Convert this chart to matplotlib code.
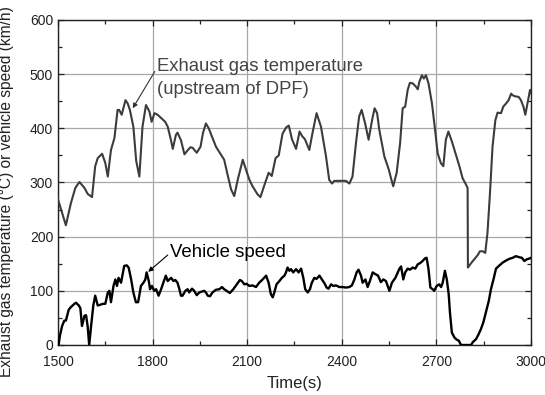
import numpy as np
import matplotlib
matplotlib.use("Agg")
from matplotlib import pyplot as plt
from matplotlib.ticker import MultipleLocator

plt.rcParams['font.family'] = ['Liberation Sans', 'DejaVu Sans']

# exhaust gas temperature upstream of the DPF (deg C)
temp_t = [1500, 1525, 1541, 1555, 1568, 1584, 1594, 1608, 1618, 1626, 1640, 1650, 1658, 1668,
          1679, 1689, 1694, 1702, 1714, 1721, 1728, 1739, 1748, 1758, 1768, 1779, 1790, 1797,
          1806, 1816, 1827, 1840, 1848, 1858, 1864, 1874, 1879, 1890, 1901, 1912, 1920, 1927,
          1940, 1952, 1960, 1969, 1978, 1990, 2001, 2017, 2027, 2038, 2049, 2059, 2070, 2086,
          2096, 2107, 2117, 2133, 2142, 2155, 2168, 2178, 2190, 2200, 2212, 2224, 2232, 2242,
          2255, 2266, 2275, 2283, 2297, 2307, 2320, 2334, 2350, 2360, 2369, 2376, 2390, 2405,
          2413, 2424, 2434, 2445, 2455, 2463, 2474, 2485, 2496, 2504, 2512, 2519, 2535, 2549,
          2556, 2563, 2574, 2585, 2593, 2601, 2609, 2616, 2625, 2635, 2641, 2646, 2654, 2660,
          2667, 2675, 2686, 2697, 2704, 2714, 2722, 2730, 2738, 2749, 2762, 2773, 2783, 2794,
          2799, 2800, 2810, 2820, 2831, 2838, 2847, 2855, 2862, 2870, 2878, 2887, 2894, 2905,
          2912, 2921, 2929, 2937, 2942, 2950, 2961, 2968, 2976, 2982, 2989, 2997, 3000]
temp_v = [269, 221, 262, 290, 301, 290, 279, 273, 330, 345, 353, 336, 311, 360,
          382, 434, 434, 425, 452, 446, 434, 403, 340, 311, 403, 443, 431, 412,
          428, 425, 419, 412, 403, 379, 362, 388, 392, 378, 352, 360, 365, 364,
          355, 366, 392, 409, 400, 382, 366, 351, 342, 314, 287, 275, 305, 342,
          324, 305, 293, 278, 273, 296, 318, 312, 345, 350, 390, 402, 405, 380,
          362, 394, 385, 380, 360, 391, 428, 403, 348, 305, 298, 303, 303, 303,
          303, 298, 311, 373, 422, 434, 409, 379, 415, 437, 428, 397, 348, 324,
          308, 293, 318, 373, 437, 440, 471, 484, 483, 477, 472, 486, 498, 492,
          498, 483, 446, 391, 354, 336, 330, 379, 394, 376, 351, 330, 308, 296,
          290, 143, 151, 158, 166, 173, 173, 170, 207, 281, 366, 415, 429, 428,
          440, 446, 452, 464, 461, 459, 458, 452, 440, 425, 446, 471, 465]

# vehicle speed (km/h)
speed_t = [1502, 1506, 1513, 1520, 1525, 1534, 1541, 1552, 1557, 1566, 1571, 1576, 1584, 1589,
           1594, 1599, 1605, 1612, 1618, 1626, 1633, 1642, 1650, 1658, 1663, 1668, 1676, 1682,
           1687, 1692, 1700, 1710, 1718, 1724, 1732, 1739, 1747, 1754, 1756, 1763, 1771, 1777,
           1781, 1788, 1792, 1798, 1805, 1811, 1819, 1827, 1834, 1842, 1848, 1853, 1859, 1866,
           1872, 1879, 1885, 1890, 1895, 1904, 1911, 1916, 1925, 1932, 1940, 1948, 1953, 1964,
           1969, 1975, 1982, 1990, 2001, 2012, 2020, 2027, 2035, 2045, 2056, 2067, 2077, 2083,
           2091, 2098, 2107, 2117, 2128, 2138, 2149, 2160, 2168, 2175, 2181, 2186, 2193, 2202,
           2210, 2218, 2223, 2228, 2234, 2239, 2246, 2255, 2263, 2271, 2278, 2284, 2292, 2299,
           2305, 2313, 2320, 2329, 2337, 2345, 2352, 2358, 2366, 2373, 2382, 2392, 2403, 2413,
           2424, 2432, 2440, 2447, 2453, 2461, 2466, 2475, 2482, 2489, 2498, 2506, 2515, 2524,
           2532, 2540, 2551, 2559, 2570, 2582, 2588, 2595, 2601, 2609, 2616, 2625, 2633, 2641,
           2648, 2656, 2664, 2669, 2675, 2681, 2688, 2693, 2701, 2709, 2715, 2720, 2727, 2733,
           2739, 2743, 2749, 2757, 2764, 2771, 2778, 2810, 2815, 2826, 2834, 2841, 2849, 2857,
           2866, 2873, 2881, 2889, 2900, 2910, 2921, 2931, 2942, 2952, 2963, 2971, 2979, 2986,
           2997, 3000]
speed_v = [0, 17, 35, 45, 45, 65, 70, 76, 78, 73, 68, 35, 54, 55,
           35, 0, 35, 73, 91, 73, 74, 76, 76, 97, 100, 79, 109, 121,
           109, 124, 115, 146, 147, 143, 121, 97, 79, 79, 85, 109, 115, 121,
           134, 118, 103, 109, 100, 103, 91, 103, 115, 128, 118, 121, 124, 118,
           120, 115, 103, 91, 91, 100, 103, 97, 104, 100, 92, 97, 98, 100,
           97, 91, 90, 97, 102, 103, 107, 103, 100, 96, 103, 112, 120, 118,
           112, 113, 109, 110, 107, 115, 121, 128, 115, 94, 88, 97, 112, 118,
           124, 128, 134, 143, 137, 140, 134, 140, 134, 141, 124, 103, 97, 103,
           115, 124, 122, 128, 121, 114, 106, 104, 112, 109, 110, 107, 107, 106,
           107, 110, 121, 134, 139, 128, 115, 121, 107, 118, 134, 131, 128, 116,
           121, 118, 100, 115, 124, 140, 145, 121, 134, 141, 139, 143, 141, 149,
           151, 155, 160, 161, 140, 106, 103, 100, 109, 112, 107, 115, 137, 121,
           94, 60, 23, 14, 10, 8, 0, 0, 5, 11, 20, 29, 42, 60,
           81, 103, 121, 141, 147, 152, 156, 159, 161, 164, 162, 161, 155, 158,
           160, 161]

fig = plt.figure(figsize=(5.45, 3.95), dpi=100)
ax = fig.add_axes([0.1064, 0.1266, 0.8679, 0.8228])

ax.plot(temp_t, temp_v, color='#3c3c3c', lw=1.5, zorder=3)
ax.plot(speed_t, speed_v, color='black', lw=1.7, zorder=3)

ax.set_xlim(1500, 3000)
ax.set_ylim(0, 600)
ax.xaxis.set_major_locator(MultipleLocator(300))
ax.xaxis.set_minor_locator(MultipleLocator(150))
ax.yaxis.set_major_locator(MultipleLocator(100))
ax.yaxis.set_minor_locator(MultipleLocator(50))
ax.tick_params(which='both', direction='in', top=True, right=True, labelsize=10,
               colors='#222222', width=0.9)
ax.tick_params(which='major', length=4)
ax.tick_params(which='minor', length=3)
ax.tick_params(axis='x', pad=7)
ax.tick_params(axis='y', pad=3.5)
ax.grid(True, which='major', color='#a8a8a8', lw=0.9, zorder=1)
for s in ax.spines.values():
    s.set_linewidth(1.0)
    s.set_color('#222222')

ax.set_xlabel('Time(s)', fontsize=12, color='#222222', labelpad=5)
ax.set_ylabel('Exhaust gas temperature (°C) or vehicle speed (km/h)', fontsize=11.2,
              color='#222222')
ax.yaxis.set_label_coords(-0.093, 0.472)

# callouts
ax.annotate('', xy=(1737, 437), xytext=(1807, 505),
            arrowprops=dict(arrowstyle='-|>', color='#333333', lw=0.8,
                            mutation_scale=7, shrinkA=0, shrinkB=0))
ax.text(1814, 515, 'Exhaust gas temperature', fontsize=13.3, color='#444444',
        ha='left', va='center')
ax.text(1814, 471, '(upstream of DPF)', fontsize=13.3, color='#444444',
        ha='left', va='center')

ax.annotate('', xy=(1786, 135), xytext=(1848, 166),
            arrowprops=dict(arrowstyle='-|>', color='black', lw=0.8,
                            mutation_scale=7, shrinkA=0, shrinkB=0))
ax.text(1855, 170, 'Vehicle speed', fontsize=13.4, color='black',
        ha='left', va='center')

fig.savefig('out.png', dpi=100)
